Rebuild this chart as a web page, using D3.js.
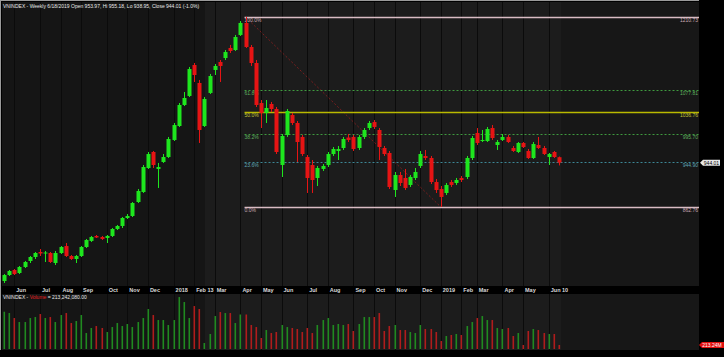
<!DOCTYPE html>
<html>
<head>
<meta charset="utf-8">
<script src="https://cdn.jsdelivr.net/npm/d3@7"></script>
<style>
body { margin: 0; background: #000; }
svg { display: block; font-family: "Liberation Sans", Arial, sans-serif; }
</style>
</head>
<body>
<div id="chart"></div>
<script>
// weekly bars, week ending Friday (May 19 2017 .. Jun 21 2019, Tet week Feb 8 2019 missing)
const opens = [727.2,738.2,747.4,741.9,752.9,763.9,771.2,780.3,777.6,778.5,760.2,778.5,791.3,773.0,767.5,773.0,789.5,800.6,809.7,807.8,
  806.0,809.7,822.5,828.0,842.6,846.3,871.9,890.2,934.2,963.5,932.4,945.2,954.3,985.5,1011.1,1049.6,1066.1,1122.8,1089.9,1011.1,
  1071.6,1113.7,1128.3,1135.6,1154.0,1150.3,1177.8,1199.8,1155.8,1126.5,1053.2,1034.9,1051.4,1042.2,939.7,994.6,1031.3,1016.6,991.0,954.3,
  939.7,915.9,932.4,939.7,959.8,965.3,970.8,990.0,991.0,970.8,991.0,1007.4,1018.4,1003.8,970.8,961.7,893.9,921.4,915.9,903.1,
  915.9,937.9,956.2,952.5,908.5,895.7,888.4,908.5,906.7,915.9,917.7,952.5,998.3,983.6,983.6,1007.4,976.3,985.5,991.0,970.8,
  963.5,980.0,965.3,952.5,976.3,970.8,954.3,963.5,953.97];
const highs = [740.0,747.4,749.2,754.7,763.9,773.0,780.3,785.8,782.2,780.3,782.2,791.3,796.8,774.8,774.8,791.3,804.2,809.7,811.5,809.7,
  811.5,824.3,829.8,844.4,849.9,871.9,895.7,939.7,963.5,965.3,943.4,959.8,991.0,1016.6,1053.2,1073.4,1119.2,1126.5,1095.4,1064.2,
  1106.4,1124.7,1132.0,1150.3,1159.5,1177.8,1203.4,1210.73,1159.5,1132.0,1058.7,1058.7,1055.1,1045.9,996.5,1042.2,1034.9,1020.3,994.6,958.0,
  948.8,937.9,941.5,963.5,972.6,974.5,991.0,996.5,994.6,994.6,1007.4,1020.3,1022.1,1007.4,974.5,965.3,926.9,926.9,932.4,921.4,
  934.2,965.3,967.2,956.2,914.0,901.2,906.7,912.2,915.9,919.5,956.2,992.8,1007.4,1003.8,1009.3,1012.9,985.5,996.5,994.6,974.5,
  981.8,981.8,969.0,981.8,991.0,974.5,961.7,965.3,955.18];
const lows = [723.6,736.4,738.2,740.0,751.0,760.2,767.5,773.0,762.0,760.2,756.5,776.7,771.2,765.7,760.2,771.2,787.7,798.7,806.0,802.3,
  796.8,807.8,820.6,824.3,840.8,844.4,870.1,888.4,932.4,934.2,897.6,943.4,952.5,983.6,1009.3,1047.7,1064.2,1091.7,980.0,1009.3,
  1069.7,1104.5,1091.7,1132.0,1144.8,1148.5,1176.0,1154.0,1121.0,1045.9,1007.4,1016.6,1036.8,959.8,917.7,991.0,1012.9,945.2,956.2,888.4,
  888.4,901.2,928.7,936.0,956.2,948.8,967.2,981.8,965.3,967.2,987.3,1003.8,1005.6,948.8,956.2,895.7,881.1,901.2,893.9,899.4,
  912.2,934.2,948.8,904.9,888.4,862.76,884.7,899.4,903.1,908.5,914.0,948.8,976.3,981.8,981.8,985.5,967.2,983.6,980.0,963.5,
  961.7,970.8,950.7,950.7,969.0,958.0,939.7,952.5,938.95];
const closes = [738.2,745.5,740.0,752.9,762.0,771.2,778.5,777.6,779.4,762.0,778.5,789.5,773.0,767.5,773.0,789.5,802.3,807.8,806.9,804.2,
  809.7,822.5,828.0,842.6,846.3,870.1,892.1,936.0,959.8,939.7,936.0,954.3,987.3,1012.9,1049.6,1062.4,1115.5,1104.5,1003.8,1060.6,
  1102.7,1121.0,1121.0,1146.6,1148.5,1174.1,1199.8,1155.8,1126.5,1049.6,1034.9,1044.1,1042.2,963.5,992.8,1038.6,1016.6,981.8,959.8,915.9,
  912.2,934.2,937.9,959.8,969.0,969.0,987.3,985.5,969.0,991.0,1003.8,1016.6,1009.3,972.6,959.8,899.4,921.4,906.7,897.6,917.7,
  926.9,959.8,952.5,908.5,893.9,881.1,903.1,903.1,912.2,912.2,952.5,989.1,980.0,985.5,1005.6,989.1,981.8,991.0,981.8,965.3,
  980.0,972.6,952.5,978.1,970.8,959.8,959.8,954.3,944.01];
// weekly volume, millions of shares
const volumes = [1966,1897,1634,1423,1423,1634,1686,1845,1634,1686,1423,1792,1897,1370,1476,1792,843,1107,1212,1107,
  896,1159,1370,1212,1318,1159,1423,1634,2108,1792,1528,1528,1265,1528,2740,2477,1634,2266,2108,316,
  791,1739,1950,1897,1897,1370,1820,1820,1265,1159,580,1001,843,896,1265,1159,1107,1054,896,1107,
  843,1265,1528,1634,1265,1318,1265,1318,949,1318,1686,1686,1686,1897,949,1212,1265,1001,1001,896,
  843,1265,1054,1054,896,422,685,738,791,738,1212,1423,1634,1739,1528,1528,1107,1054,1107,685,
  843,211,949,1054,1001,843,791,791,213.24208];
const monthLabels = ["Jun","Jul","Aug","Sep","Oct","Nov","Dec","2018","Feb 13","Mar","Apr","May","Jun",
  "Jul","Aug","Sep","Oct","Nov","Dec","2019","Feb","Mar","Apr","May","Jun 10"];
const fibPct = ["100.0%","61.8%","50.0%","38.2%","23.6%","0.0%"];
const fibPrices = [1210.73,1077.81,1036.76,995.70,944.90,862.76];
const fibColors = ["#d9bcc4","#3f9a3f","#b9b900","#3f9a3f","#3d8796","#d9bcc4"];
const fibText = ["#c9a9b2","#5fae5f","#c4c43a","#5fae5f","#5ea5b5","#c9a9b2"];

const width = 724, height = 357;
const left = 2, right = 699, priceTop = 2, priceBottom = 286, volTop = 294, volBottom = 350;

// dates for each bar
const dates = d3.timeFriday.range(new Date(2017, 4, 19), new Date(2019, 5, 22))
  .filter(d => !(d.getFullYear() === 2019 && d.getMonth() === 1 && d.getDate() === 8));
const bars = dates.map((d, i) => ({
  date: d, i: i, open: opens[i], high: highs[i], low: lows[i], close: closes[i], vol: volumes[i],
  up: closes[i] >= opens[i]
}));

const x = d3.scaleLinear().domain([0, bars.length - 1]).range([4, 559]);
const y = d3.scaleLinear().domain([862.76, 1210.73]).range([207, 17]);
const yv = d3.scaleLinear().domain([0, 2900]).range([349, 294]);

const svg = d3.select("#chart").append("svg")
  .attr("width", width).attr("height", height);

svg.append("rect").attr("width", width).attr("height", height).attr("fill", "#000");

// panel backgrounds: older part darker, highlighted part, future blank
function panelBg(y0, y1) {
  svg.append("rect").attr("x", left).attr("y", y0).attr("width", right - left).attr("height", y1 - y0).attr("fill", "#151515");
  svg.append("rect").attr("x", 205).attr("y", y0).attr("width", 561 - 205).attr("height", y1 - y0).attr("fill", "#1c1c1c");
  svg.append("rect").attr("x", 561).attr("y", y0).attr("width", right - 561).attr("height", y1 - y0).attr("fill", "#171717");
}
panelBg(priceTop, priceBottom);
panelBg(volTop, volBottom);

// month grid lines
const monthStarts = bars.filter((b, i) => i > 0 && b.date.getMonth() !== bars[i - 1].date.getMonth());
const grid = svg.append("g");
monthStarts.forEach(b => {
  [[priceTop, priceBottom], [volTop, volBottom]].forEach(r => {
    grid.append("line").attr("x1", Math.round(x(b.i)) + 0.5).attr("x2", Math.round(x(b.i)) + 0.5)
      .attr("y1", r[0]).attr("y2", r[1]).attr("stroke", "#0b0b0b").attr("stroke-width", 1);
  });
});

// frame lines
svg.append("line").attr("x1", 0).attr("x2", right).attr("y1", 0.5).attr("y2", 0.5).attr("stroke", "#9a9a9a");
svg.append("line").attr("x1", 0.5).attr("x2", 0.5).attr("y1", 0).attr("y2", volBottom).attr("stroke", "#9a9a9a");

// date axis strip
svg.append("rect").attr("x", left).attr("y", priceBottom).attr("width", right - left).attr("height", volTop - priceBottom).attr("fill", "#000");
svg.append("g").selectAll("text").data(monthStarts).enter().append("text")
  .attr("x", b => x(b.i) + 2).attr("y", priceBottom + 6)
  .attr("font-size", 5.5).attr("font-weight", "bold").attr("fill", "#d8d8d8")
  .text((b, k) => monthLabels[k]);

// fibonacci retracement: from the top down to the lowest low after it
const hiIdx = d3.maxIndex(bars, b => b.high);
const loIdx = hiIdx + d3.minIndex(bars.slice(hiIdx), b => b.low);
svg.append("line").attr("x1", x(hiIdx)).attr("y1", y(fibPrices[0])).attr("x2", x(loIdx)).attr("y2", y(fibPrices[5]))
  .attr("stroke", "#7a1e1e").attr("stroke-dasharray", "2,2");
const fib = svg.append("g");
fibPrices.forEach((p, k) => {
  const solid = k === 0 || k === 5 || k === 2;
  fib.append("line").attr("x1", x(hiIdx) - 1).attr("x2", right)
    .attr("y1", Math.round(y(p)) + 0.5).attr("y2", Math.round(y(p)) + 0.5)
    .attr("stroke", fibColors[k]).attr("stroke-width", solid ? 1.5 : 1)
    .attr("stroke-dasharray", solid ? null : "2,2");
  fib.append("text").attr("x", x(hiIdx) - 1).attr("y", y(p) + 5)
    .attr("font-size", 5).attr("fill", fibText[k]).text(fibPct[k]);
  fib.append("text").attr("x", right - 1).attr("y", y(p) + 5).attr("text-anchor", "end")
    .attr("font-size", 5).attr("fill", fibText[k]).text(p.toFixed(2));
});

// candles
const candle = svg.append("g").selectAll("g").data(bars).enter().append("g");
candle.append("line")
  .attr("x1", b => Math.round(x(b.i)) + 0.5).attr("x2", b => Math.round(x(b.i)) + 0.5)
  .attr("y1", b => y(b.high)).attr("y2", b => y(b.low))
  .attr("stroke", b => b.up ? "#1ee61e" : "#e61414");
candle.append("rect")
  .attr("x", b => Math.round(x(b.i)) - 1.5).attr("width", 4)
  .attr("y", b => y(Math.max(b.open, b.close)))
  .attr("height", b => Math.max(1, Math.abs(y(b.open) - y(b.close))))
  .attr("fill", b => b.up ? "#1ee61e" : "#e61414");

// volume bars
svg.append("g").selectAll("rect").data(bars).enter().append("rect")
  .attr("x", b => Math.round(x(b.i)) - 0.5).attr("width", 1.6)
  .attr("y", b => yv(b.vol)).attr("height", b => yv(0) - yv(b.vol))
  .attr("fill", b => b.up ? "#208a20" : "#b01c1c");

// titles
const last = bars[bars.length - 1];
svg.append("text").attr("x", 3).attr("y", 8).attr("font-size", 5).attr("fill", "#e8e8e8")
  .text("VNINDEX - Weekly 6/18/2019 Open " + last.open.toFixed(2) + ", Hi " + last.high.toFixed(2) +
    ", Lo " + last.low.toFixed(2) + ", Close " + last.close.toFixed(2) + " (-1.0%)");
const vt = svg.append("text").attr("x", 3).attr("y", volTop + 5).attr("font-size", 5).attr("fill", "#e8e8e8");
vt.append("tspan").text("VNINDEX - ");
vt.append("tspan").attr("fill", "#e02020").text("Volume");
vt.append("tspan").text(" = " + d3.format(",.2f")(Math.round(last.vol * 1e6)));

// right axis markers
const py = y(last.close);
svg.append("path").attr("d", `M700,${py} L703,${py - 3} L720,${py - 3} L720,${py + 3} L703,${py + 3} Z`)
  .attr("fill", "#e8e8e8");
svg.append("text").attr("x", 711.5).attr("y", py + 2).attr("text-anchor", "middle")
  .attr("font-size", 5).attr("fill", "#000").text(last.close.toFixed(2));
const vy = yv(last.vol);
svg.append("path").attr("d", `M699,${vy} L702,${vy - 3} L724,${vy - 3} L724,${vy + 3} L702,${vy + 3} Z`)
  .attr("fill", "#e01010");
svg.append("text").attr("x", 712).attr("y", vy + 2).attr("text-anchor", "middle")
  .attr("font-size", 5).attr("fill", "#fff").text(d3.format(".2f")(last.vol) + "M");
</script>
</body>
</html>
